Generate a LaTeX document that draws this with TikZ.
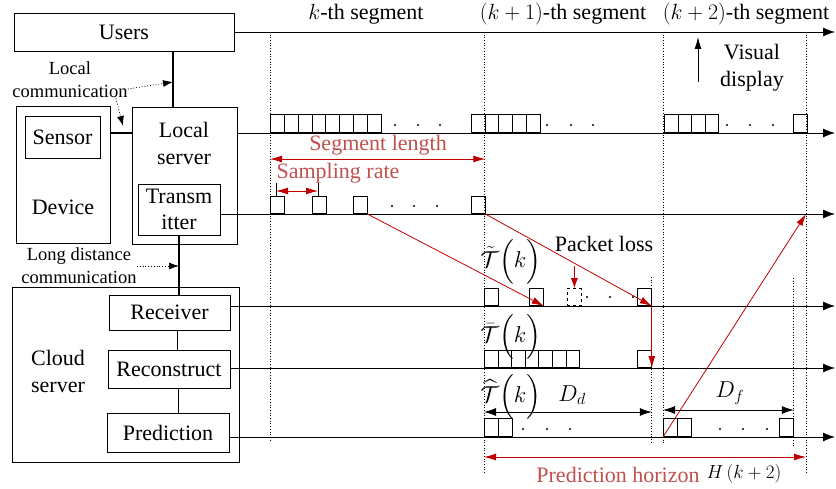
\RequirePackage{fix-cm}
\documentclass[tikz,border=0pt]{standalone}
\usepackage{fontspec,amsmath}
\setmainfont{LiberationSerif}[Extension=.ttf,UprightFont=*-Regular,BoldFont=*-Bold,ItalicFont=*-Italic,BoldItalicFont=*-BoldItalic]
\usetikzlibrary{arrows.meta,calc,positioning}
\definecolor{darkred}{HTML}{C00000}
\definecolor{labelred}{HTML}{C0504D}

\begin{document}
\begin{tikzpicture}[x=1pt,y=-1pt,line width=.8pt,
  font=\fontsize{22}{27}\selectfont,
  box/.style={draw,inner sep=0pt,align=center},
  pkt/.style={draw,inner sep=0pt,minimum width=14pt,minimum height=17pt,anchor=south west},
  tline/.style={-{Latex[length=12pt,width=9pt]}},
  guide/.style={dotted,line width=.7pt},
  link/.style={line width=2.2pt},
  comm/.style={dotted,-{Latex[length=10pt,width=7pt]}},
  redarr/.style={darkred,-{Latex[length=12pt,width=7pt]}},
  reddim/.style={darkred,{Latex[length=12pt,width=7pt]}-{Latex[length=12pt,width=7pt]}},
  dimarr/.style={{Latex[length=12pt,width=8pt]}-{Latex[length=12pt,width=8pt]}},
  lbl/.style={labelred,inner sep=0pt},
  small/.style={font=\fontsize{18.5}{23}\selectfont,align=center,inner sep=0pt},
  mathlbl/.style={font=\fontsize{23}{27}\selectfont,inner sep=0pt}]
\useasboundingbox (0,0) rectangle (836,489);

% blocks on the left
\node[box,minimum width=220pt,minimum height=38pt] (users) at (124,32) {Users};
\node[box,minimum width=94pt,minimum height=137pt] (device) at (63,174.5) {};
\node[box,minimum width=75pt,minimum height=42pt] (sensor) at (62.5,137) {Sensor};
\node (devlbl) at (63,207) {Device};
\node[box,minimum width=105pt,minimum height=137pt] (local) at (184.5,175.5) {};
\node[align=center] (loclbl) at (184,143) {Local\\server};
\node[box,minimum width=82pt,minimum height=51pt,font=\fontsize{22}{26}\selectfont] (transm) at (179,209.5) {Transm\\itter};
\node[box,minimum width=227pt,minimum height=175pt] (cloud) at (125.5,374.5) {};
\node[align=center] (cldlbl) at (58,371) {Cloud\\server};
\node[box,minimum width=121pt,minimum height=35pt] (recv) at (169.5,312.5) {Receiver};
\node[box,minimum width=122pt,minimum height=38pt] (recon) at (169,369) {Reconstruct};
\node[box,minimum width=122pt,minimum height=39pt] (pred) at (168,432.5) {Prediction};

% time axes
\foreach \n/\y in {eu/32,el/133,et/214,er/306,ec/368,ep/437}
  \coordinate (\n) at (835,\y);
\draw[tline] (users.east) -- (eu);
\draw[tline] (local.east |- el) -- (el);
\draw[tline] (transm.east |- et) -- (et);
\draw[tline] (recv.east |- er) -- (er);
\draw[tline] (recon.east |- ec) -- (ec);
\draw[tline] (pred.east |- ep) -- (ep);

% links between blocks
\coordinate (lk) at (173,82);
\coordinate (lk2) at (123,126);
\draw[link] (users.south -| lk) -- (local.north -| lk);
\draw[link] (device.east |- el) -- (local.west |- el);
\draw[link] (transm.south) -- (transm.south |- recv.north);
\draw ([xshift=8pt]recv.south) -- ([xshift=8pt]recv.south |- recon.north);
\draw ([xshift=9pt]recon.south) -- ([xshift=9pt]recon.south |- pred.north);

\node[small] (lcom) at (70,80) {Local\\communication};
\draw[comm] ([yshift=-9pt]lcom.east) -- (lk);
\draw[comm] ([xshift=-12pt]lcom.south east) -- (lk2);
\node[small] (ldcom) at (79,266) {Long distance\\communication};
\draw[comm] (ldcom.east) -- (ldcom.east -| transm.south);

% segments
\node (seg0) at (366,14) {$k$-th segment};
\node (seg1) at (563,14) {$\left(k+1\right)$-th segment};
\node (seg2) at (746,14) {$\left(k+2\right)$-th segment};
\foreach \x/\a/\b in {270/32/440,484/32/473,663/32/443,806/32/473,651/277/443,793/278/447}
  \draw[guide] (\x,\a) -- (\x,\b);

\node[align=center] (vis) at (752,68) {Visual\\display};
\coordinate (vd1) at (698,82);
\coordinate (vd2) at (698,37);
\draw[-{Latex[length=12pt,width=7pt]}] (vd1) -- (vd2);

% packets: local server
\foreach \i in {0,...,7}
  \node[pkt,minimum width=13.85pt,minimum height=18pt] (a\i) at (270+13.85*\i,133) {};
\foreach \i in {0,...,4}
  \node[pkt,minimum width=13.7pt,minimum height=18pt] (b\i) at (471+13.7*\i,133) {};
\foreach \i in {0,...,3}
  \node[pkt,minimum width=13.6pt,minimum height=18pt] (c\i) at (664+13.6*\i,133) {};
\node[pkt,minimum height=18pt] (d0) at (793,133) {};
\foreach \x in {395,418,440,547,571,593,727,750,773}
  \fill (\x,125) circle (1.2pt);

% packets: transmitter
\foreach \x [count=\i from 0] in {270,312,353,471}
  \node[pkt,minimum width=13.5pt] (t\i) at (\x,214) {};
\foreach \x in {392,414,437}
  \fill (\x,206) circle (1.2pt);
\coordinate (sr1) at (276,183);
\coordinate (sr2) at (318,183);
\draw (sr1) -- (sr1 |- t0.north);
\draw (sr2) -- (sr2 |- t1.north);
\draw[reddim] ([yshift=-8pt]sr1) -- ([yshift=-8pt]sr2);
\draw[reddim] (t0.west |- 0,159) -- (t3.east |- 0,159);
\node[lbl] (seglen) at (378,145) {Segment length};
\node[lbl] (samp) at (338,173) {Sampling rate};

% packets: receiver
\node[pkt] (r0) at (484,306) {};
\node[pkt] (r1) at (529,306) {};
\node[pkt,dashed] (r2) at (567,306) {};
\node[pkt] (r3) at (637,306) {};
\foreach \x in {587,610,633}
  \fill (\x,297) circle (1.2pt);

% packets: reconstruct
\foreach \i in {0,...,6}
  \node[pkt,minimum width=13.6pt] (q\i) at (484+13.6*\i,368) {};
\node[pkt] (q7) at (637,368) {};

% packets: prediction
\node[pkt,minimum height=18pt] (p0) at (484,437) {};
\node[pkt,minimum height=18pt] (p1) at (498,437) {};
\node[pkt,minimum height=18pt] (p2) at (663,437) {};
\node[pkt,minimum height=18pt] (p3) at (677,437) {};
\node[pkt,minimum height=18pt] (p4) at (779,437) {};
\foreach \x in {523,547,570,720,743,767}
  \fill (\x,429) circle (1.2pt);

% transfers
\coordinate (vd) at (806,214);
\draw[redarr] (t2.south east) -- (r1.south east);
\draw[redarr] (t3.south east) -- (r3.south east);
\draw[redarr] (r3.south east) -- (q7.south east);
\draw[redarr] (p2.south west) -- (vd);
\node (ploss) at (604,244) {Packet loss};
\draw[darkred,-{Latex[length=10pt,width=7pt]}] ([yshift=22pt]r2.north) -- (r2.north);

\node[mathlbl] (tl) at (511,262) {$\tilde{\mathcal{T}}\Bigl(k\Bigr)$};
\node[mathlbl] (bl) at (511,337) {$\bar{\mathcal{T}}\Bigl(k\Bigr)$};
\node[mathlbl] (hl) at (511,397) {$\widehat{\mathcal{T}}\Bigl(k\Bigr)$};
\node[mathlbl] (dd) at (572,395) {$D_d$};
\node[mathlbl] (df) at (730,393) {$D_f$};
\draw[dimarr] (p0.west |- 0,412) -- (r3.east |- 0,412);
\draw[dimarr] (p2.west |- 0,410) -- (p4.east |- 0,410);
\draw[reddim] (p0.west |- 0,457) -- (vd |- 0,457);
\node[lbl] (phor) at (618,475) {Prediction horizon};
\node[font=\fontsize{19}{22}\selectfont] (hk) at (744,474) {$H\left(k+2\right)$};
\end{tikzpicture}
\end{document}
